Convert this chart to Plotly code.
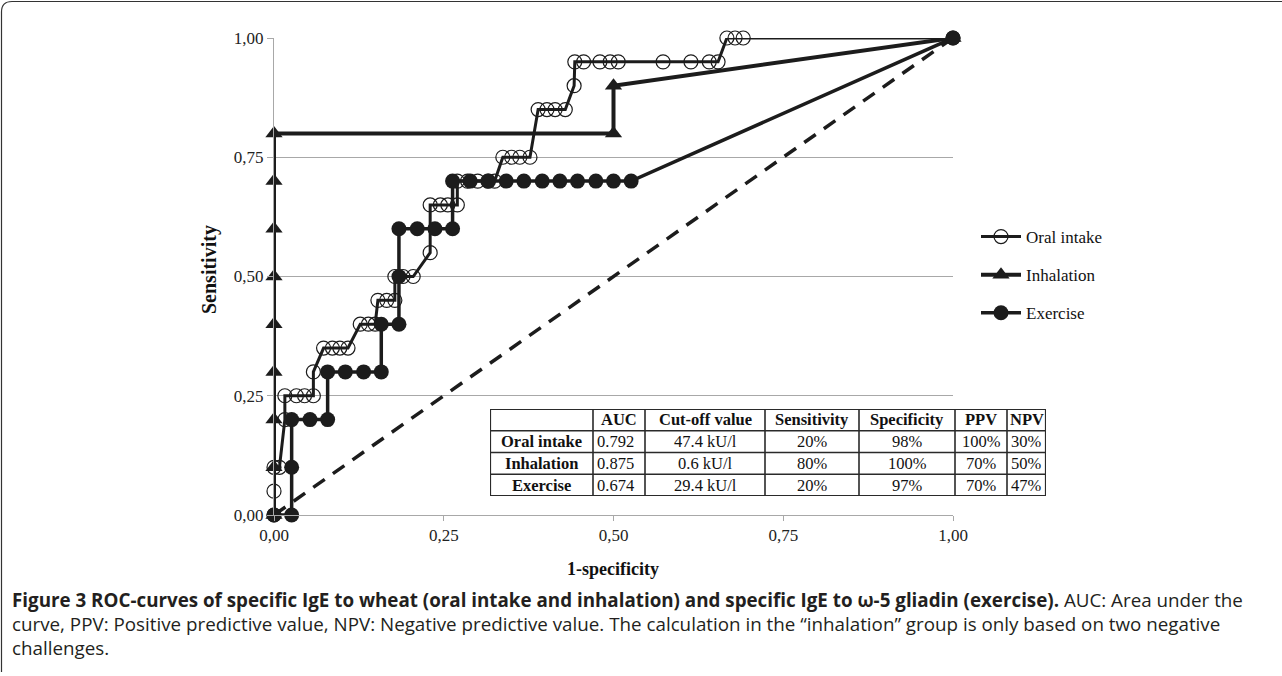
import plotly.graph_objects as go

# ---------------- data ----------------
oral_x = [0, 0, 0, 0.008, 0.016, 0.016, 0.033, 0.045, 0.058, 0.058, 0.073, 0.086, 0.097, 0.109,
          0.127, 0.139, 0.149, 0.153, 0.166, 0.178, 0.178, 0.19, 0.205, 0.23, 0.23, 0.245, 0.256,
          0.27, 0.27, 0.285, 0.30, 0.315, 0.325, 0.337, 0.35, 0.362, 0.377, 0.389, 0.402, 0.414,
          0.429, 0.442, 0.443, 0.456, 0.48, 0.495, 0.507, 0.573, 0.614, 0.641, 0.654, 0.667,
          0.679, 0.691, 1.0]
oral_y = [0, 0.05, 0.10, 0.10, 0.20, 0.25, 0.25, 0.25, 0.25, 0.30, 0.35, 0.35, 0.35, 0.35,
          0.40, 0.40, 0.40, 0.45, 0.45, 0.45, 0.50, 0.50, 0.50, 0.55, 0.65, 0.65, 0.65,
          0.65, 0.70, 0.70, 0.70, 0.70, 0.70, 0.75, 0.75, 0.75, 0.75, 0.85, 0.85, 0.85,
          0.85, 0.90, 0.95, 0.95, 0.95, 0.95, 0.95, 0.95, 0.95, 0.95, 0.95, 1.0,
          1.0, 1.0, 1.0]

inh_x = [0, 0, 0, 0, 0, 0, 0, 0, 0, 0.5, 0.5, 1.0]
inh_y = [0, 0.1, 0.2, 0.3, 0.4, 0.5, 0.6, 0.7, 0.8, 0.8, 0.9, 1.0]

ex_x = [0, 0.026, 0.026, 0.026, 0.053, 0.079, 0.079, 0.105, 0.132, 0.158, 0.158, 0.184, 0.184,
        0.184, 0.211, 0.237, 0.263, 0.263, 0.289, 0.316, 0.342, 0.368, 0.395, 0.421, 0.447,
        0.474, 0.500, 0.526, 1.0]
ex_y = [0, 0, 0.1, 0.2, 0.2, 0.2, 0.3, 0.3, 0.3, 0.3, 0.4, 0.4, 0.5,
        0.6, 0.6, 0.6, 0.6, 0.7, 0.7, 0.7, 0.7, 0.7, 0.7, 0.7, 0.7,
        0.7, 0.7, 0.7, 1.0]

ref_x = [0, 1]
ref_y = [0, 1]

tick_vals = [0, 0.25, 0.5, 0.75, 1.0]
tick_text = ["0,00", "0,25", "0,50", "0,75", "1,00"]

tbl_header = ["", "AUC", "Cut-off value", "Sensitivity", "Specificity", "PPV", "NPV"]
tbl_groups = ["Oral intake", "Inhalation", "Exercise"]
tbl_auc = ["0.792", "0.875", "0.674"]
tbl_cutoff = ["47.4 kU/l", "0.6 kU/l", "29.4 kU/l"]
tbl_sens = ["20%", "80%", "20%"]
tbl_spec = ["98%", "100%", "97%"]
tbl_ppv = ["100%", "70%", "70%"]
tbl_npv = ["30%", "50%", "47%"]
tbl_colwidths = [103, 52, 120, 94, 96, 52, 39]
tbl_align = ["center", "left", "center", "center", "center", "center", "left"]

caption_bold = ("Figure 3 ROC-curves of specific IgE to wheat (oral intake and inhalation) "
                "and specific IgE to ω-5 gliadin (exercise).")
caption_l1 = " AUC: Area under the"
caption_l2 = ("curve, PPV: Positive predictive value, NPV: Negative predictive value. The calculation "
              "in the “inhalation” group is only based on two negative")
caption_l3 = "challenges."

# ---------------- layout helpers ----------------
W, H = 1282, 676
def px(x):
    return x / W
def py(y):
    return 1 - y / H

INK = "#1c1c1c"
GRID = "#a8a8a8"
SERIF = "Liberation Serif"
SANS = "Open Sans"

fig = go.Figure()

fig.add_trace(go.Scatter(x=ref_x, y=ref_y, mode="lines", showlegend=False,
                         line=dict(color=INK, width=3.5, dash="14px,10px"), hoverinfo="skip"))
fig.add_trace(go.Scatter(x=oral_x, y=oral_y, mode="lines+markers", name="Oral intake",
                         legendgroup="a", cliponaxis=False,
                         line=dict(color=INK, width=3),
                         marker=dict(symbol="circle-open", size=14, color=INK, line=dict(width=1.2))))
fig.add_trace(go.Scatter(x=inh_x, y=inh_y, mode="lines+markers", name="Inhalation",
                         legendgroup="b", cliponaxis=False,
                         line=dict(color=INK, width=4),
                         marker=dict(symbol="triangle-up", size=15, color=INK)))
fig.add_trace(go.Scatter(x=ex_x, y=ex_y, mode="lines+markers", name="Exercise",
                         legendgroup="c", cliponaxis=False,
                         line=dict(color=INK, width=3.5),
                         marker=dict(symbol="circle", size=15, color=INK)))

# ---------------- table on its own hidden axes ----------------
TX0, TX1, TY0, TY1 = 490, 1046, 409, 496   # table box in pixels
total_w = sum(tbl_colwidths)
edges = [0]
for wdt in tbl_colwidths:
    edges.append(edges[-1] + wdt)
rows = [tbl_header] + [list(r) for r in zip(tbl_groups, tbl_auc, tbl_cutoff, tbl_sens,
                                            tbl_spec, tbl_ppv, tbl_npv)]
nrows = len(rows)

fig.add_shape(type="rect", xref="x2", yref="y2", x0=0, x1=total_w, y0=0, y1=nrows,
              fillcolor="white", line=dict(color="#2a2a2a", width=2.2), layer="above")
for e in edges[1:-1]:
    fig.add_shape(type="line", xref="x2", yref="y2", x0=e, x1=e, y0=0, y1=nrows,
                  line=dict(color="#2a2a2a", width=1.6), layer="above")
for r in range(1, nrows):
    fig.add_shape(type="line", xref="x2", yref="y2", x0=0, x1=total_w, y0=r, y1=r,
                  line=dict(color="#2a2a2a", width=1.6), layer="above")
for ri, row in enumerate(rows):
    for ci, val in enumerate(row):
        if not val:
            continue
        is_bold = ri == 0 or ci == 0
        al = tbl_align[ci] if ri > 0 else "center"
        if al == "left":
            xx, xa = edges[ci] + 2, "left"
        else:
            xx, xa = (edges[ci] + edges[ci + 1]) / 2, "center"
        fig.add_annotation(x=xx, y=nrows - ri - 0.5, xref="x2", yref="y2", showarrow=False,
                           xanchor=xa, yanchor="middle",
                           text=("<b>" + val + "</b>") if is_bold else val,
                           font=dict(family=SERIF, size=16.5, color="#111"))

fig.update_layout(
    width=W, height=H,
    margin=dict(l=0, r=0, t=0, b=0, autoexpand=False),
    paper_bgcolor="white", plot_bgcolor="white",
    xaxis=dict(domain=[px(274), px(953)], range=[0, 1], tickvals=tick_vals, ticktext=tick_text,
               showgrid=False, zeroline=False, showline=True, linecolor=GRID, linewidth=1,
               ticks="outside", ticklen=5, tickcolor=GRID,
               tickfont=dict(family=SERIF, size=17, color="#222")),
    yaxis=dict(domain=[py(515), py(38)], range=[0, 1], tickvals=tick_vals, ticktext=tick_text,
               showgrid=True, gridcolor=GRID, gridwidth=1, zeroline=False,
               showline=True, linecolor=GRID, linewidth=1,
               ticks="outside", ticklen=6, tickcolor=GRID,
               tickfont=dict(family=SERIF, size=17, color="#222")),
    xaxis2=dict(domain=[px(TX0), px(TX1)], range=[0, total_w], visible=False, anchor="y2",
                fixedrange=True),
    yaxis2=dict(domain=[py(TY1), py(TY0)], range=[0, nrows], visible=False, anchor="x2",
                fixedrange=True),
    showlegend=True,
    legend=dict(x=px(976), y=py(219), xanchor="left", yanchor="top",
                font=dict(family=SERIF, size=17, color="#111"),
                tracegroupgap=13, itemwidth=40, bgcolor="rgba(0,0,0,0)"),
)

# axis titles
fig.add_annotation(x=px(613), y=py(569), xref="paper", yref="paper", showarrow=False,
                   xanchor="center", yanchor="middle",
                   text="<b>1-specificity</b>", font=dict(family=SERIF, size=18, color="#111"))
fig.add_annotation(x=px(210), y=py(270), xref="paper", yref="paper", showarrow=False,
                   xanchor="center", yanchor="middle",
                   text="<b>Sensitivity</b>", textangle=-90,
                   font=dict(family=SERIF, size=20, color="#111"))

# caption
fig.add_annotation(x=px(10), y=py(600), xref="paper", yref="paper", showarrow=False,
                   xanchor="left", yanchor="middle",
                   text="<b>" + caption_bold + "</b>" + caption_l1,
                   font=dict(family=SANS, size=18.8, color="#231f20"))
fig.add_annotation(x=px(10), y=py(624), xref="paper", yref="paper", showarrow=False,
                   xanchor="left", yanchor="middle", text=caption_l2,
                   font=dict(family=SANS, size=18.8, color="#231f20"))
fig.add_annotation(x=px(10), y=py(648), xref="paper", yref="paper", showarrow=False,
                   xanchor="left", yanchor="middle", text=caption_l3,
                   font=dict(family=SANS, size=18.8, color="#231f20"))

# outer frame (top and left with rounded corner)
fig.add_shape(type="path", xref="paper", yref="paper",
              path=f"M {px(1.5)},{py(672)} L {px(1.5)},{py(12)} Q {px(1.5)},{py(1.5)} {px(12)},{py(1.5)} L {px(1282)},{py(1.5)}",
              line=dict(color="#333", width=1.2))

fig.write_html("out.html", config={"displayModeBar": False},
               post_script="document.body.style.margin='0';document.body.style.overflow='hidden';")
